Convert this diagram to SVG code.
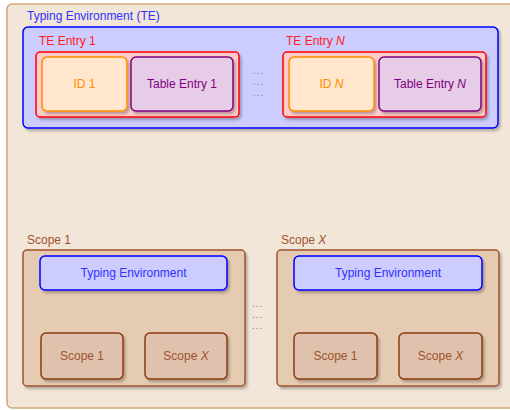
<svg xmlns="http://www.w3.org/2000/svg" width="510" height="410" viewBox="0 0 510 410">
  <defs>
    <filter id="shadow" x="-10%" y="-10%" width="130%" height="140%">
      <feDropShadow dx="2" dy="2.5" stdDeviation="1.2" flood-color="#000" flood-opacity="0.25"/>
    </filter>
  </defs>
  <style>
    text { font-family: "Liberation Sans", "DejaVu Sans", sans-serif; font-size: 12px; }
    .lbl { text-anchor: middle; dominant-baseline: central; }
    .outer { fill: #f2e6d9; stroke: #d2a679; stroke-width: 1.5; }
    .te { fill: #ccccff; stroke: #0000ff; stroke-width: 1.5; filter: url(#shadow); }
    .entry { fill: #ffcccc; stroke: #ff0000; stroke-width: 1.5; filter: url(#shadow); }
    .id { fill: #ffe6cc; stroke: #ff8c00; stroke-width: 1.5; filter: url(#shadow); }
    .tab { fill: #e6cce6; stroke: #800080; stroke-width: 1.5; filter: url(#shadow); }
    .scope { fill: #e6cbb3; stroke: #a0522d; stroke-width: 1.5; filter: url(#shadow); }
    .sub { fill: #dfc2ae; stroke: #8b3a0f; stroke-width: 1.5; filter: url(#shadow); }
    .blue { fill: #3030ff; }
    .red { fill: #ff2020; }
    .orange { fill: #ff8c00; }
    .purple { fill: #800080; }
    .brown { fill: #a0522d; }
    .dots { fill: #808080; font-size: 10px; letter-spacing: 1px; }
  </style>

  <!-- outer container -->
  <g id="outer">
    <rect class="outer" x="7" y="4" width="520" height="404" rx="5"/>
  </g>

  <!-- typing environment -->
  <g id="typing-environment">
    <text class="blue" x="27" y="20">Typing Environment (TE)</text>
    <rect class="te" x="23" y="27" width="475" height="101" rx="5"/>
  </g>

  <g id="te-entry-1">
    <text class="red" x="39" y="45">TE Entry 1</text>
    <rect class="entry" x="36" y="52" width="203" height="65" rx="4"/>
  </g>
  <g id="id-1">
    <rect class="id" x="42" y="57" width="85" height="54" rx="5"/>
    <text class="lbl orange" x="84.5" y="84">ID 1</text>
  </g>
  <g id="table-entry-1">
    <rect class="tab" x="131" y="57" width="102" height="54" rx="5"/>
    <text class="lbl purple" x="182" y="84">Table Entry 1</text>
  </g>

  <g id="te-dots">
    <text class="dots" x="253" y="74">...</text>
    <text class="dots" x="253" y="85">...</text>
    <text class="dots" x="253" y="96">...</text>
  </g>

  <g id="te-entry-n">
    <text class="red" x="286" y="45">TE Entry <tspan font-style="italic">N</tspan></text>
    <rect class="entry" x="283" y="52" width="203" height="65" rx="4"/>
  </g>
  <g id="id-n">
    <rect class="id" x="289" y="57" width="85" height="54" rx="5"/>
    <text class="lbl orange" x="331.5" y="84">ID <tspan font-style="italic">N</tspan></text>
  </g>
  <g id="table-entry-n">
    <rect class="tab" x="379" y="57" width="102" height="54" rx="5"/>
    <text class="lbl purple" x="430" y="84">Table Entry <tspan font-style="italic">N</tspan></text>
  </g>

  <!-- scopes -->
  <g id="scope-1">
    <text class="brown" x="27" y="244">Scope 1</text>
    <rect class="scope" x="23" y="250" width="222" height="136" rx="4"/>
  </g>
  <g id="scope-1-te">
    <rect class="te" x="40" y="256" width="187" height="34" rx="5"/>
    <text class="lbl blue" x="133.5" y="273">Typing Environment</text>
  </g>
  <g id="scope-1-child-1">
    <rect class="sub" x="41" y="333" width="82" height="46" rx="5"/>
    <text class="lbl brown" x="82" y="356">Scope 1</text>
  </g>
  <g id="scope-1-child-x">
    <rect class="sub" x="145" y="333" width="82" height="46" rx="5"/>
    <text class="lbl brown" x="186" y="356">Scope <tspan font-style="italic">X</tspan></text>
  </g>

  <g id="scope-dots">
    <text class="dots" x="252" y="307">...</text>
    <text class="dots" x="252" y="318">...</text>
    <text class="dots" x="252" y="329">...</text>
  </g>

  <g id="scope-x">
    <text class="brown" x="281" y="244">Scope <tspan font-style="italic">X</tspan></text>
    <rect class="scope" x="277" y="250" width="222" height="136" rx="4"/>
  </g>
  <g id="scope-x-te">
    <rect class="te" x="294" y="256" width="188" height="34" rx="5"/>
    <text class="lbl blue" x="388" y="273">Typing Environment</text>
  </g>
  <g id="scope-x-child-1">
    <rect class="sub" x="294" y="333" width="83" height="46" rx="5"/>
    <text class="lbl brown" x="335.5" y="356">Scope 1</text>
  </g>
  <g id="scope-x-child-x">
    <rect class="sub" x="399" y="333" width="83" height="46" rx="5"/>
    <text class="lbl brown" x="440.5" y="356">Scope <tspan font-style="italic">X</tspan></text>
  </g>

  <!-- no connectors in this diagram -->
  <g id="connectors"/>
</svg>
